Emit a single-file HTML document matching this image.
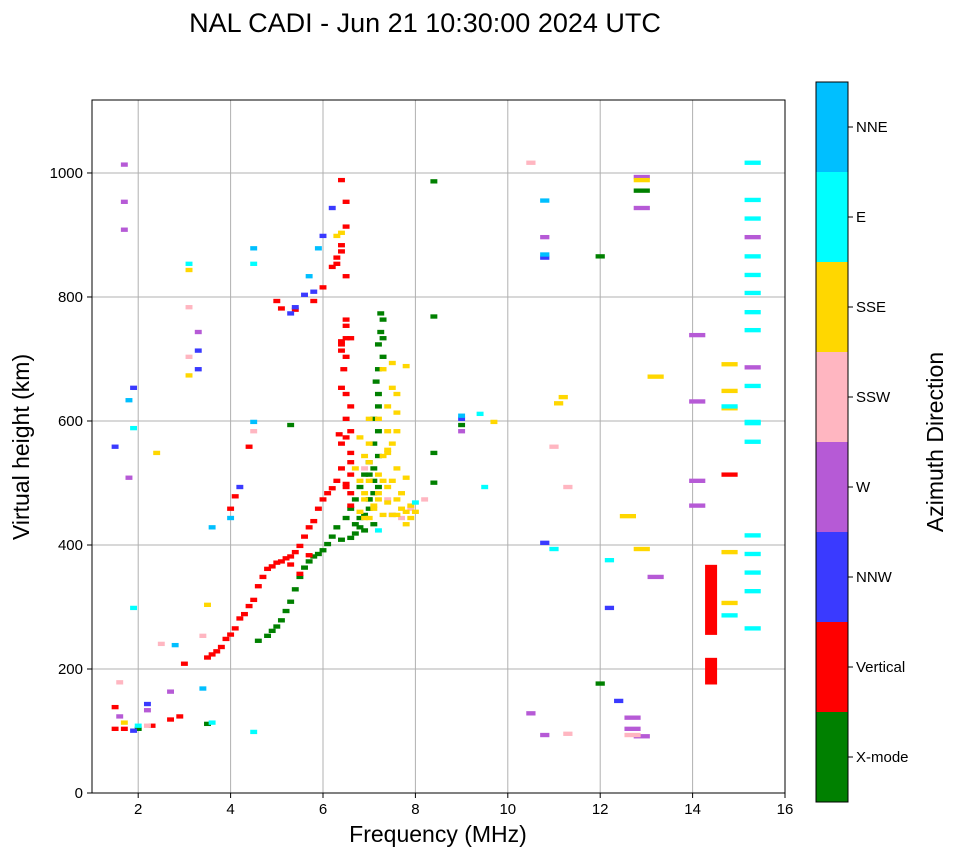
<!DOCTYPE html>
<html><head><meta charset="utf-8"><style>
body{margin:0;background:#fff;}
svg text{font-family:"Liberation Sans",sans-serif;}
</style></head><body>
<svg id="chart" width="958" height="857" xmlns="http://www.w3.org/2000/svg">
<text x="425" y="32" font-size="27" text-anchor="middle">NAL CADI - Jun 21 10:30:00 2024 UTC</text>
<g id="grid"></g><g id="marks"></g>
<rect x="92" y="100" width="693" height="693" fill="none" stroke="#000" stroke-width="1"/>
<g id="axes"></g>
<text x="438" y="842" font-size="23" text-anchor="middle">Frequency (MHz)</text>
<text x="0" y="0" font-size="23" text-anchor="middle" transform="translate(29,447) rotate(-90)">Virtual height (km)</text>
<g id="cbar"></g>
<text x="0" y="0" font-size="23" text-anchor="middle" transform="translate(943,442) rotate(-90)">Azimuth Direction</text>
</svg>
<script>
const xTicks=[2,4,6,8,10,12,14,16];
const yTicks=[0,200,400,600,800,1000];
const dirNames=["X-mode","Vertical","NNW","W","SSW","SSE","E","NNE"];
const dirColors=["#008000","#ff0000","#3a3aff","#b65ad6","#ffb6c1","#ffd700","#00ffff","#00bfff"];

const xmodeFreq=[4.6,4.8,4.9,5.0,5.1,5.2,5.3,5.4,5.5,5.6,5.7,5.8,5.9,6.0,6.1,6.2,6.3,6.5,6.6,6.7,6.8,6.9,7.0,7.1,7.1,7.2,7.2,7.2,7.25,7.3,7.1,7.0,6.8,7.0,7.1,2.0,3.5,8.4,8.4,8.4,8.4,9.0,5.3,12.0,12.0,12.9,6.7,
6.7,6.8,6.9,7.0,7.1,7.2,7.0,7.2,7.2,7.2,7.15,7.3,7.3,7.25,6.9,7.1,6.6,6.4];
const xmodeH=[242,250,258,265,275,290,305,325,345,360,370,378,382,388,398,410,425,440,455,470,490,510,530,560,600,640,680,720,740,760,520,470,440,470,500,100,108,983,765,545,497,590,590,862,173,968,430,
415,425,445,455,480,490,510,540,580,620,660,700,730,770,420,430,408,405];
const verticalFreq=[1.5,1.5,1.7,2.3,2.7,2.9,3.0,3.5,3.6,3.7,3.8,3.9,4.0,4.1,4.2,4.3,4.4,4.5,4.6,4.7,4.8,4.9,5.0,5.1,5.2,5.3,5.4,5.5,5.6,5.7,5.8,5.9,6.0,6.1,6.2,6.3,6.4,6.4,6.5,6.5,6.5,6.4,6.5,6.4,6.5,6.4,6.5,6.5,6.4,4.4,4.1,4.0,5.0,5.1,5.4,5.8,6.0,6.2,6.3,6.4,14.8,6.6,6.5,
6.6,6.6,6.5,6.6,6.6,6.5,6.6,6.45,6.4,6.6,6.5,6.3,6.6,6.35,5.7,5.5,5.3,6.5,6.4];
const verticalH=[100,135,100,105,115,120,205,215,220,225,232,245,252,262,278,285,298,308,330,345,358,362,368,370,375,378,385,395,410,425,435,455,470,480,488,500,520,560,600,640,700,720,750,650,830,870,910,950,985,555,475,455,790,778,776,790,812,845,860,880,510,580,490,
460,480,495,510,530,570,620,680,710,730,760,850,545,575,380,350,365,730,725];
const nnwFreq=[1.9,2.2,3.3,3.3,4.2,5.3,5.4,5.6,6.2,6.0,9.0,10.8,10.8,12.2,12.4,1.9,1.5,5.8];
const nnwH=[97,140,680,710,490,770,780,800,940,895,600,400,860,295,145,650,555,805];
const wFreq=[1.6,1.7,1.7,1.7,1.8,2.2,2.7,3.3,9.0,10.5,10.8,12.7,12.7,12.9,12.9,12.9,14.1,14.1,14.1,14.1,13.2,7.5,10.8,15.3,15.3];
const wH=[120,1010,950,905,505,130,160,740,580,125,90,118,100,88,990,940,735,628,500,460,345,445,893,893,683];
const sswFreq=[1.6,2.2,2.5,3.1,3.1,3.4,7.9,10.5,11.3,11.0,11.3,12.7,6.9,7.4,4.5,8.2,7.7];
const sswH=[175,105,237,780,700,250,455,1013,490,555,92,90,520,470,580,470,440];
const sseFreq=[6.8,6.9,7.0,7.1,7.2,7.3,7.4,7.5,7.6,7.7,7.8,7.9,6.7,6.9,7.2,7.4,7.5,7.6,7.0,7.3,7.5,7.4,7.8,6.8,7.3,1.7,2.4,3.1,3.1,3.5,11.1,11.2,12.6,12.9,12.9,13.2,14.8,14.8,14.8,14.8,14.8,9.7,6.4,6.3,
6.9,7.0,7.1,7.2,7.3,7.4,7.5,7.6,7.5,7.7,7.9,8.0,7.8,7.6,7.0,7.4,7.6,7.8,6.8,7.0,7.4,7.6,6.9,7.2];
const sseH=[450,470,440,455,480,500,465,445,470,455,450,460,520,540,600,620,650,580,560,680,690,550,505,500,540,110,545,670,840,300,625,635,443,390,985,668,688,645,617,385,303,595,900,895,
480,500,460,470,445,490,500,520,560,480,440,450,430,445,530,545,610,685,570,600,580,640,440,510];
const eFreq=[1.9,1.9,2.0,3.1,3.6,4.5,4.5,9.5,9.4,11.0,12.2,14.8,14.8,8.0,15.3,15.3,15.3,15.3,15.3,15.3,15.3,15.3,15.3,15.3,15.3,15.3,15.3,15.3,15.3,15.3,15.3,7.2];
const eH=[585,295,105,850,110,95,850,490,608,390,372,283,620,465,1013,953,923,862,832,803,772,743,653,593,563,412,382,352,322,262,595,420];
const nneFreq=[1.8,2.8,3.4,3.6,4.0,4.5,5.9,10.8,10.8,9.0,4.5,5.7];
const nneH=[630,235,165,425,440,595,875,952,865,605,875,830];
const bigBarFreq=[14.4,14.4];
const bigBarLow=[255,175];
const bigBarHigh=[368,218];

const series=[[xmodeFreq,xmodeH],[verticalFreq,verticalH],[nnwFreq,nnwH],[wFreq,wH],[sswFreq,sswH],[sseFreq,sseH],[eFreq,eH],[nneFreq,nneH]];

const svgNS="http://www.w3.org/2000/svg";
const X0=92,X1=785,Y0=793,Y1=100,XMIN=1,XMAX=16,YMIN=0,YMAX=1117.7;
const xs=v=>X0+(v-XMIN)/(XMAX-XMIN)*(X1-X0);
const ys=v=>Y0-(v-YMIN)/(YMAX-YMIN)*(Y0-Y1);
function mk(tag,attrs,parent){const e=document.createElementNS(svgNS,tag);for(const k in attrs)e.setAttribute(k,attrs[k]);parent.appendChild(e);return e;}
const grid=document.getElementById('grid'),axes=document.getElementById('axes'),marks=document.getElementById('marks'),cbar=document.getElementById('cbar');
xTicks.forEach(t=>{const x=xs(t);
 const g=mk('line',{x1:x,x2:x,y1:Y1,y2:Y0,stroke:'#b0b0b0','stroke-width':1},grid);
 
 
 mk('line',{x1:x,x2:x,y1:Y0,y2:Y0+5,stroke:'#000'},axes);
 const tx=mk('text',{x:x,y:Y0+21,'font-size':15,'text-anchor':'middle'},axes);tx.textContent=t;
 
 });
yTicks.forEach(t=>{const y=ys(t);
 const g=mk('line',{x1:X0,x2:X1,y1:y,y2:y,stroke:'#b0b0b0','stroke-width':1},grid);
 
 
 mk('line',{x1:X0-5,x2:X0,y1:y,y2:y,stroke:'#000'},axes);
 const tx=mk('text',{x:X0-9,y:y+5,'font-size':15,'text-anchor':'end'},axes);tx.textContent=t;
 
 });
series.forEach((s,d)=>{
 const f=s[0],h=s[1];
 for(let i=0;i<Math.min(f.length,h.length);i++){
  const w=f[i]>=12.5?0.35:(f[i]>=10?0.2:0.15);
  const r=mk('rect',{x:xs(f[i]-w/2),y:ys(h[i]+7),width:xs(f[i]+w/2)-xs(f[i]-w/2),height:ys(h[i])-ys(h[i]+7),fill:dirColors[d]},marks);
  
  
 }
});
for(let i=0;i<bigBarFreq.length;i++){
 const r=mk('rect',{x:xs(bigBarFreq[i]-0.13),y:ys(bigBarHigh[i]),width:xs(bigBarFreq[i]+0.13)-xs(bigBarFreq[i]-0.13),height:ys(bigBarLow[i])-ys(bigBarHigh[i]),fill:dirColors[1]},marks);
 
 
}
const CB_X=816,CB_W=32,CB_TOP=82,CB_H=720,seg=CB_H/dirNames.length;
dirNames.forEach((n,i)=>{const y=CB_TOP+CB_H-(i+1)*seg;
 const r=mk('rect',{x:CB_X,y:y,width:CB_W,height:seg,fill:dirColors[i]},cbar);
 
 
 mk('line',{x1:CB_X+CB_W,x2:CB_X+CB_W+5,y1:y+seg/2,y2:y+seg/2,stroke:'#000'},cbar);
 const tx=mk('text',{x:CB_X+CB_W+8,y:y+seg/2+5,'font-size':15},cbar);tx.textContent=n;
 
 });
mk('rect',{x:CB_X,y:CB_TOP,width:CB_W,height:CB_H,fill:'none',stroke:'#000'},cbar);
</script>
</body></html>
